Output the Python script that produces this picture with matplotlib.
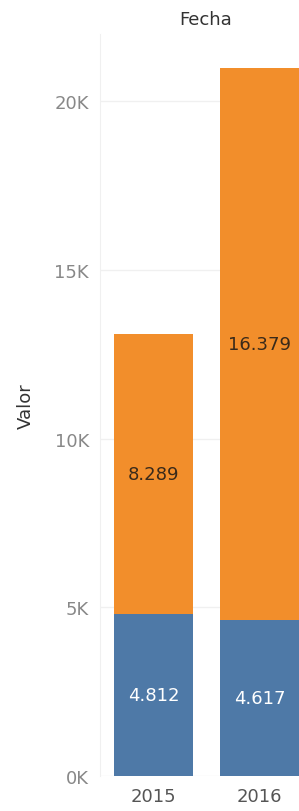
import matplotlib.pyplot as plt

# data
years = ['2015', '2016']
blue_vals = [4812, 4617]
orange_vals = [8289, 16379]
blue_labels = ['4.812', '4.617']
orange_labels = ['8.289', '16.379']
yticks = [0, 5000, 10000, 15000, 20000]
ytick_labels = ['0K', '5K', '10K', '15K', '20K']

blue = '#4E79A7'
orange = '#F28E2B'

plt.rcParams['font.family'] = ['DejaVu Sans']

fig = plt.figure(figsize=(2.99, 8.12), dpi=100)
ax = fig.add_axes([100 / 299, 1 - 777 / 812, 1 - 100 / 299, (777 - 35) / 812])

x = list(range(len(years)))
width = 0.745
ax.bar(x, blue_vals, width, color=blue, zorder=2)
ax.bar(x, orange_vals, width, bottom=blue_vals, color=orange, zorder=2)

for i in x:
    ax.text(i, blue_vals[i] / 2, blue_labels[i], ha='center', va='center',
            color='white', fontsize=13, zorder=3)
    ax.text(i, blue_vals[i] + orange_vals[i] / 2, orange_labels[i], ha='center',
            va='center', color='#3a2a1a', fontsize=13, zorder=3)

ax.set_xlim(-0.505, 1.372)
ax.set_ylim(0, 22000)
ax.set_xticks(x)
ax.set_xticklabels(years, fontsize=13, color='#555555')
ax.set_yticks(yticks)
ax.set_yticklabels(ytick_labels, fontsize=13, color='#888888')
ax.tick_params(axis='both', length=0, pad=8)
ax.grid(axis='y', color='#f0f0f0', linewidth=1, zorder=0)

for s in ['top', 'right', 'bottom']:
    ax.spines[s].set_visible(False)
ax.spines['left'].set_color('#f0f0f0')

ax.set_ylabel('Valor', fontsize=13, color='#333333', labelpad=14)
fig.text(206 / 299, 1 - 20 / 812, 'Fecha', ha='center', va='center',
         fontsize=13, color='#333333')

plt.savefig('out.png', dpi=100)
